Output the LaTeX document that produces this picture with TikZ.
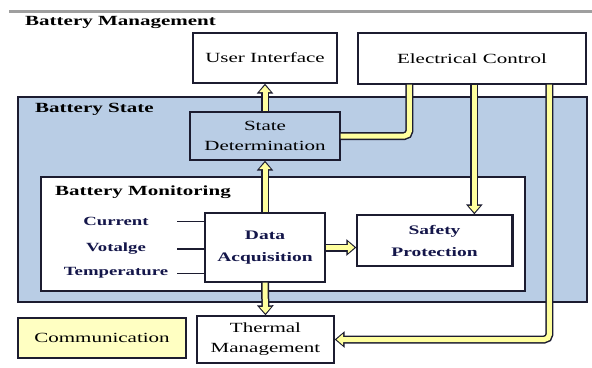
\documentclass[tikz,border=0pt]{standalone}
\usepackage{fontspec}
\setmainfont{Liberation Serif}[FakeStretch=1.5]
\usetikzlibrary{arrows.meta, positioning, calc}
\definecolor{statebg}{HTML}{B9CDE5}
\definecolor{pipe}{HTML}{FFFF9E}
\definecolor{commfill}{HTML}{FFFFC2}
\definecolor{edge}{HTML}{1C1C30}
\definecolor{navy}{HTML}{14164A}

\begin{document}
\begin{tikzpicture}[
    x=1pt, y=-1pt,
    box/.style={rectangle, draw=edge, line width=1.3pt, fill=white, align=center, inner sep=0pt, font=\fontsize{14}{20}\selectfont},
    keybox/.style={box, font=\fontsize{13}{22}\selectfont\bfseries, text=navy},
    title/.style={anchor=west, inner sep=0pt, font=\fontsize{14}{20}\selectfont\bfseries},
    sensor/.style={inner sep=0pt, minimum width=122pt, font=\fontsize{12.5}{15}\selectfont\bfseries, text=navy},
    wire/.style={draw=edge, line width=1pt},
    pipeline/.style={draw=pipe, line width=5pt, preaction={draw=edge, line width=8pt}},
    pipearrow/.style={draw=pipe, line width=5pt, -{Triangle[width=11pt,length=6.5pt]}, shorten >=1.9pt,
        preaction={draw=edge, line width=8pt, -{Triangle[width=16pt,length=10pt]}, shorten >=0pt}},
]
\useasboundingbox (0,0) rectangle (592,367);

\draw[gray!75, line width=3pt] (9,11) -- (592,11);
\node[title] (mgmt) at (25,22) {Battery Management};

\node[box, minimum width=144pt, minimum height=50pt] (ui) at (265,58) {User Interface};
\node[box, minimum width=228pt, minimum height=51pt] (ec) at (472,58.5) {Electrical Control};

\node[box, fill=statebg, line width=1.8pt, minimum width=569pt, minimum height=205pt] (bs) at (302.5,199.5) {};
\node[title] (bslabel) at (35,109) {Battery State};
\node[box, fill=statebg, minimum width=150pt, minimum height=48pt] (sd) at (265,136) {State\\Determination};

\node[box, line width=1.6pt, minimum width=484pt, minimum height=114pt] (bm) at (283,234) {};
\node[title] (bmlabel) at (55,192) {Battery Monitoring};
\node[keybox, minimum width=120pt, minimum height=69pt] (acq) at (265,247.5) {Data\\Acquisition};
\node[keybox, minimum width=155pt, minimum height=51pt] (sp) at (434.5,240.5) {Safety\\Protection};
\draw[edge, line width=3pt] (sp.north east) -- (sp.south east);

\node[sensor] (cur) at (116,221) {Current};
\node[sensor] (volt) at (116,249) {Votalge};
\node[sensor] (temp) at (116,273) {Temperature};

\node[box, minimum width=137pt, minimum height=47pt] (tm) at (265.5,339.5) {Thermal\\Management};
\node[box, fill=commfill, minimum width=168pt, minimum height=40pt] (cm) at (102,338) {Communication};

\coordinate (tapA) at ([xshift=52pt]ec.south west);
\coordinate (tapB) at ([xshift=117pt]ec.south west);
\coordinate (tapC) at ([xshift=192pt]ec.south west);

\draw[wire] (cur.east) -- (cur.east -| acq.west);
\draw[wire, line width=2pt] (volt.east) -- (volt.east -| acq.west);
\draw[wire] (temp.east) -- (temp.east -| acq.west);

\draw[pipearrow] (sd.north) -- (ui.south);
\draw[pipearrow] (acq.north) -- (sd.south);
\draw[pipearrow] (acq.south) -- (tm.north);
\draw[pipearrow] (acq.east) -- (acq.east -| sp.west);
\draw[pipeline, rounded corners=5pt] (sd.east) -| (tapA);
\draw[pipearrow] (tapB) -- (tapB |- sp.north);
\draw[pipearrow, rounded corners=5pt] (tapC) |- (tm.east);

\end{tikzpicture}
\end{document}
